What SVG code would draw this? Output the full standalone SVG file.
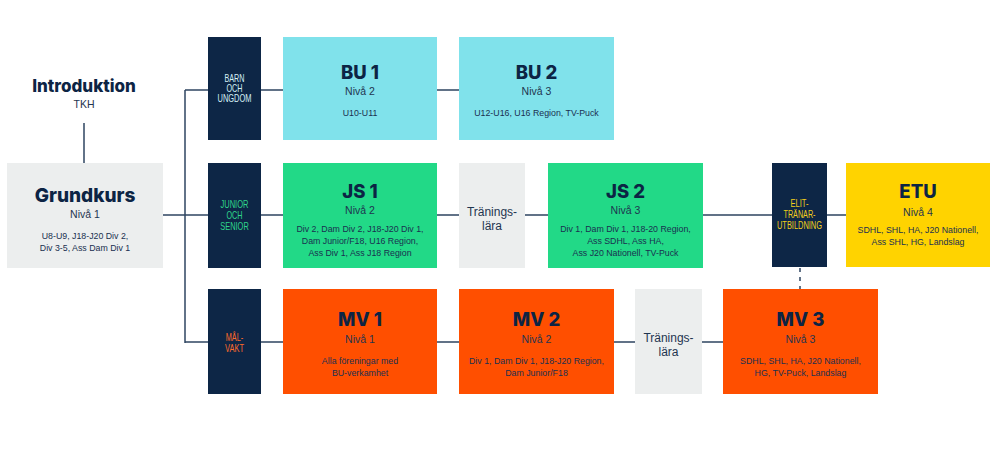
<svg xmlns="http://www.w3.org/2000/svg" width="1000" height="471" viewBox="0 0 1000 471">
<style>
.bg{fill:#ffffff}
.navy{fill:#0d2646}
.cyan{fill:#80e2eb}
.green{fill:#22d987}
.orange{fill:#ff4f00}
.yellow{fill:#ffd300}
.gray{fill:#eceeee}
.conn{stroke:#2e4460;stroke-width:1.5;fill:none}
.dash{stroke:#2e4460;stroke-width:1.5;fill:none;stroke-dasharray:4 5}
text{font-family:"Liberation Sans",Arial,sans-serif;text-anchor:middle}
.title{font-family:Inter,"Liberation Sans",Arial,sans-serif;font-weight:800;font-size:18.5px;fill:#0c2444}
.big{font-size:19px}
.intro{font-size:17px}
.niva{font-size:10.5px;fill:#1f3550}
.det{font-size:8.8px;fill:#1a3050}
.tr{font-size:12px;fill:#1f3550}
.side{font-size:10.5px;font-weight:500}
.sbu{fill:#d4eff5}
.sjs{fill:#2fd58c}
.smv{fill:#ff6a2a}
.set{fill:#f2cf1a}
</style>
<rect class="bg" x="0" y="0" width="1000" height="471"/>
<g id="connectors">
<path class="conn" d="M84 123V163"/>
<path class="conn" d="M163 215H208"/>
<path class="conn" d="M185 90V343"/>
<path class="conn" d="M185 90H208"/>
<path class="conn" d="M185 342H208"/>
<path class="conn" d="M261 90H283M437 90H459"/>
<path class="conn" d="M261 215H283M437 215H459M525 215H548M703 215H772M827 215H846"/>
<path class="conn" d="M261 342H283M437 342H459M614 342H635M702 342H723"/>
<path class="dash" d="M800 268V289"/>
</g>
<g id="introduktion">
<text class="title intro" x="84" y="92">Introduktion</text>
<text class="niva" x="84" y="108">TKH</text>
</g>
<g id="grundkurs">
<rect class="gray" x="7" y="163" width="156" height="105"/>
<text class="title big" x="85" y="201.5">Grundkurs</text>
<text class="niva" x="85" y="217.5">Nivå 1</text>
<text class="det" x="85" y="238.5">U8-U9, J18-J20 Div 2,</text>
<text class="det" x="85" y="250.5">Div 3-5, Ass Dam Div 1</text>
</g>
<g id="side-bu">
<rect class="navy" x="208" y="37" width="53" height="103"/>
<text class="side sbu" x="234.5" y="81.5" textLength="20" lengthAdjust="spacingAndGlyphs">BARN</text>
<text class="side sbu" x="234.5" y="91.5" textLength="16" lengthAdjust="spacingAndGlyphs">OCH</text>
<text class="side sbu" x="234.5" y="101.5" textLength="34" lengthAdjust="spacingAndGlyphs">UNGDOM</text>
</g>
<g id="bu1">
<rect class="cyan" x="283" y="37" width="154" height="103"/>
<text class="title" x="360" y="79">BU 1</text>
<text class="niva" x="360" y="94.5">Nivå 2</text>
<text class="det" x="360" y="116">U10-U11</text>
</g>
<g id="bu2">
<rect class="cyan" x="459" y="37" width="155" height="103"/>
<text class="title" x="536.5" y="79">BU 2</text>
<text class="niva" x="536.5" y="94.5">Nivå 3</text>
<text class="det" x="536.5" y="116">U12-U16, U16 Region, TV-Puck</text>
</g>
<g id="side-js">
<rect class="navy" x="208" y="163" width="53" height="105"/>
<text class="side sjs" x="234.5" y="207.5" textLength="28" lengthAdjust="spacingAndGlyphs">JUNIOR</text>
<text class="side sjs" x="234.5" y="218.5" textLength="16" lengthAdjust="spacingAndGlyphs">OCH</text>
<text class="side sjs" x="234.5" y="229.5" textLength="28.5" lengthAdjust="spacingAndGlyphs">SENIOR</text>
</g>
<g id="js1">
<rect class="green" x="283" y="163" width="154" height="105"/>
<text class="title" x="360" y="197.5">JS 1</text>
<text class="niva" x="360" y="213.5">Nivå 2</text>
<text class="det" x="360" y="231.5">Div 2, Dam Div 2, J18-J20 Div 1,</text>
<text class="det" x="360" y="243.5">Dam Junior/F18, U16 Region,</text>
<text class="det" x="360" y="255.5">Ass Div 1, Ass J18 Region</text>
</g>
<g id="traningslara-js">
<rect class="gray" x="459" y="163" width="66" height="105"/>
<text class="tr" x="492" y="216">Tränings-</text>
<text class="tr" x="492" y="230">lära</text>
</g>
<g id="js2">
<rect class="green" x="548" y="163" width="155" height="105"/>
<text class="title" x="625.5" y="197.5">JS 2</text>
<text class="niva" x="625.5" y="213.5">Nivå 3</text>
<text class="det" x="625.5" y="231.5">Div 1, Dam Div 1, J18-20 Region,</text>
<text class="det" x="625.5" y="243.5">Ass SDHL, Ass HA,</text>
<text class="det" x="625.5" y="255.5">Ass J20 Nationell, TV-Puck</text>
</g>
<g id="elit">
<rect class="navy" x="772" y="163" width="55" height="104"/>
<text class="side set" x="799.5" y="206.5" textLength="18" lengthAdjust="spacingAndGlyphs">ELIT-</text>
<text class="side set" x="799.5" y="217.5" textLength="32" lengthAdjust="spacingAndGlyphs">TRÄNAR-</text>
<text class="side set" x="799.5" y="229" textLength="45" lengthAdjust="spacingAndGlyphs">UTBILDNING</text>
</g>
<g id="etu">
<rect class="yellow" x="846" y="163" width="144" height="104"/>
<text class="title" x="918" y="198">ETU</text>
<text class="niva" x="918" y="215.5">Nivå 4</text>
<text class="det" x="918" y="233">SDHL, SHL, HA, J20 Nationell,</text>
<text class="det" x="918" y="245">Ass SHL, HG, Landslag</text>
</g>
<g id="side-mv">
<rect class="navy" x="208" y="289" width="53" height="105"/>
<text class="side smv" x="234.5" y="341" textLength="17.5" lengthAdjust="spacingAndGlyphs">MÅL-</text>
<text class="side smv" x="234.5" y="351.5" textLength="19" lengthAdjust="spacingAndGlyphs">VAKT</text>
</g>
<g id="mv1">
<rect class="orange" x="283" y="289" width="154" height="105"/>
<text class="title" x="360" y="326">MV 1</text>
<text class="niva" x="360" y="342.5">Nivå 1</text>
<text class="det" x="360" y="363.5">Alla föreningar med</text>
<text class="det" x="360" y="375.5">BU-verkamhet</text>
</g>
<g id="mv2">
<rect class="orange" x="459" y="289" width="155" height="105"/>
<text class="title" x="536.5" y="326">MV 2</text>
<text class="niva" x="536.5" y="342.5">Nivå 2</text>
<text class="det" x="536.5" y="363.5">Div 1, Dam Div 1, J18-J20 Region,</text>
<text class="det" x="536.5" y="375.5">Dam Junior/F18</text>
</g>
<g id="traningslara-mv">
<rect class="gray" x="635" y="289" width="67" height="105"/>
<text class="tr" x="668.5" y="341.5">Tränings-</text>
<text class="tr" x="668.5" y="355.5">lära</text>
</g>
<g id="mv3">
<rect class="orange" x="723" y="289" width="155" height="105"/>
<text class="title" x="800.5" y="326">MV 3</text>
<text class="niva" x="800.5" y="342.5">Nivå 3</text>
<text class="det" x="800.5" y="363.5">SDHL, SHL, HA, J20 Nationell,</text>
<text class="det" x="800.5" y="375.5">HG, TV-Puck, Landslag</text>
</g>
</svg>
